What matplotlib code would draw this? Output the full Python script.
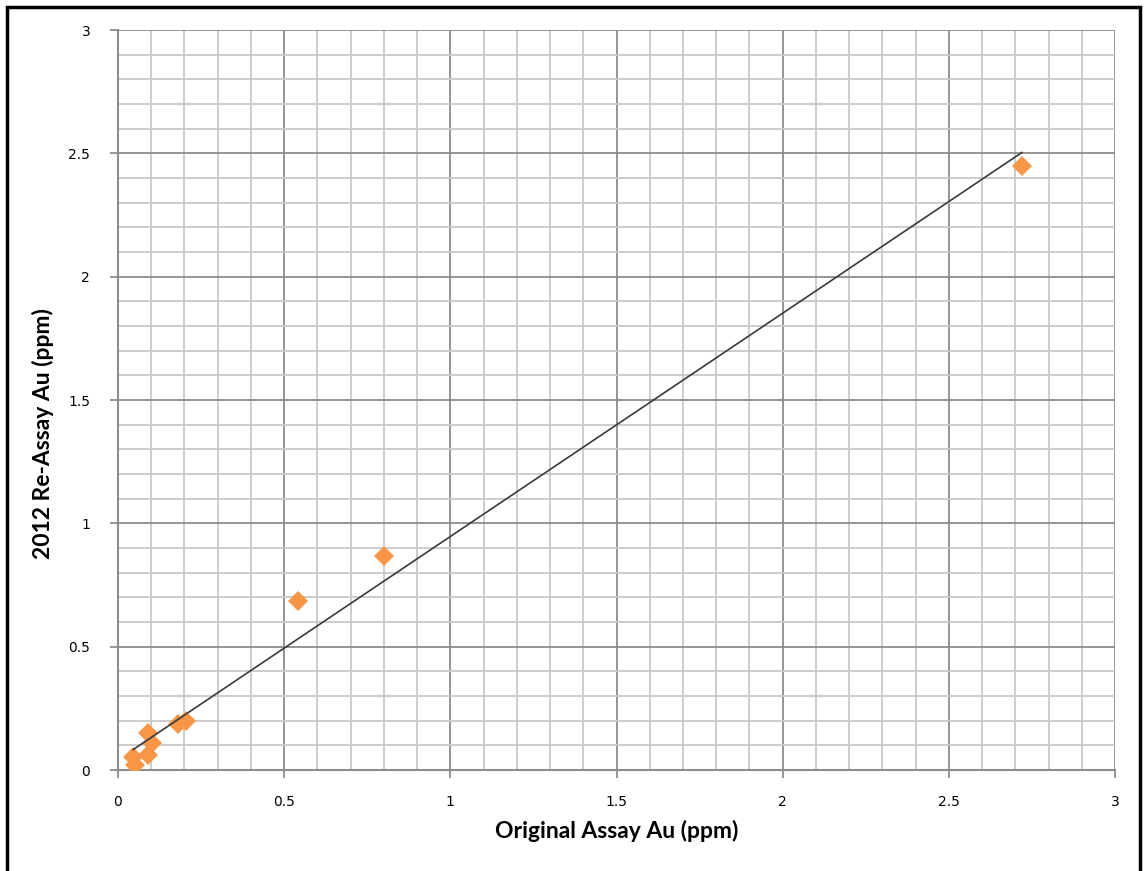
import numpy as np
import matplotlib
matplotlib.use("Agg")
import matplotlib.pyplot as plt
from matplotlib.patches import Rectangle

# original vs re-assay gold values (ppm)
original_au = [0.046, 0.051, 0.091, 0.091, 0.101, 0.180, 0.204, 0.541, 0.800, 2.720]
reassay_au = [0.051, 0.022, 0.148, 0.061, 0.111, 0.187, 0.199, 0.686, 0.867, 2.450]

x_ticks = [0, 0.5, 1, 1.5, 2, 2.5, 3]
y_ticks = [0, 0.5, 1, 1.5, 2, 2.5, 3]
tick_labels = ["0", "0.5", "1", "1.5", "2", "2.5", "3"]

fig = plt.figure(figsize=(11.46, 8.71), dpi=100)
ax = fig.add_axes([118/1146, 1 - 770/871, (1115-118)/1146, (770-30)/871])

# grid
ax.set_xticks(np.arange(0, 3.01, 0.1), minor=True)
ax.set_yticks(np.arange(0, 3.01, 0.1), minor=True)
ax.grid(which="minor", color="#c8c8c8", linewidth=1.3)
ax.grid(which="major", color="#8c8c8c", linewidth=1.3)
ax.set_axisbelow(True)

# points
ax.plot(original_au, reassay_au, linestyle="none", marker="D", markersize=10.5,
        color="#f79646", markeredgewidth=0, zorder=3)

# linear trendline over the data range
slope, intercept = np.polyfit(original_au, reassay_au, 1)
xs = np.array([min(original_au), max(original_au)])
ax.plot(xs, slope * xs + intercept, color="#3a3a3a", linewidth=1.2, zorder=4)

ax.set_xlim(0, 3)
ax.set_ylim(0, 3)
ax.set_xticks(x_ticks)
ax.set_yticks(y_ticks)
ax.set_xticklabels(tick_labels, fontsize=10, family="DejaVu Sans")
ax.set_yticklabels(tick_labels, fontsize=10, family="DejaVu Sans")
ax.tick_params(which="major", length=6, color="#8c8c8c", width=1.3, pad=12)
ax.tick_params(which="minor", length=0)
ax.tick_params(axis="y", pad=14)

for s in ["top", "right"]:
    ax.spines[s].set_visible(False)
for s in ["left", "bottom"]:
    ax.spines[s].set_color("#8c8c8c")
    ax.spines[s].set_linewidth(1.5)

ax.set_xlabel("Original Assay Au (ppm)", fontsize=16.5, fontweight="bold",
              family="Lato", labelpad=8)
ax.set_ylabel("2012 Re-Assay Au (ppm)", fontsize=16.5, fontweight="bold",
              family="Lato")
ax.yaxis.set_label_coords(-0.064, 0.454)

# outer frame
fig.patches.append(Rectangle((7/1146, -0.05), (1140-7)/1146, 1.05 - 7/871,
                             transform=fig.transFigure, fill=False,
                             edgecolor="black", linewidth=2.5))

fig.savefig("out.png", dpi=100)
